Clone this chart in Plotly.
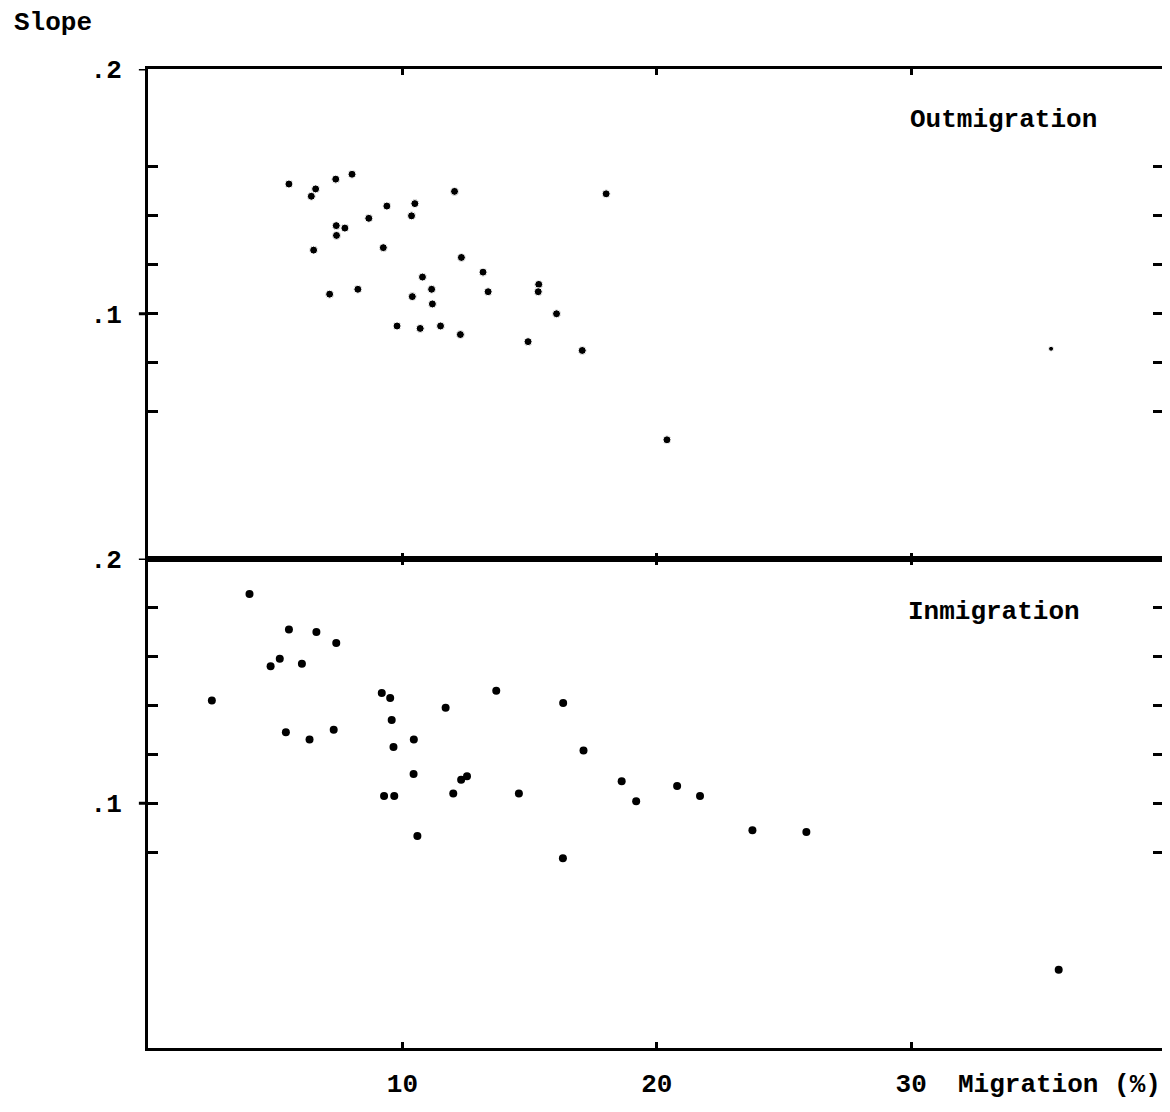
import plotly.graph_objects as go

# ---- data ----
out_x = [5.54, 6.59, 6.42, 7.38, 8.02, 12.05, 18.01, 9.39, 10.49, 8.68,
         10.36, 7.40, 7.74, 7.41, 6.51, 9.25, 12.32, 13.17, 10.79, 15.36,
         15.34, 11.15, 13.37, 7.14, 8.25, 10.39, 11.18, 16.06, 9.79, 10.70,
         11.50, 12.28, 14.94, 17.07, 20.40, 35.50]
out_y = [0.153, 0.151, 0.148, 0.155, 0.157, 0.150, 0.149, 0.144, 0.145, 0.139,
         0.140, 0.136, 0.135, 0.132, 0.126, 0.127, 0.123, 0.117, 0.115, 0.112,
         0.109, 0.110, 0.109, 0.108, 0.110, 0.107, 0.104, 0.100, 0.095, 0.094,
         0.095, 0.0915, 0.0886, 0.085, 0.0485, 0.0857]

in_x = [3.99, 5.54, 6.62, 7.40, 5.18, 4.82, 6.05, 2.51, 9.19, 9.52,
        13.69, 16.32, 11.70, 9.58, 5.42, 6.35, 7.30, 10.45, 9.65, 17.12,
        10.44, 12.31, 12.54, 18.62, 20.80, 12.00, 9.28, 9.68, 14.58, 19.19,
        21.70, 10.59, 16.31, 23.76, 25.88, 35.80]
in_y = [0.1855, 0.171, 0.170, 0.1655, 0.159, 0.156, 0.157, 0.142, 0.145, 0.143,
        0.146, 0.141, 0.139, 0.134, 0.129, 0.126, 0.130, 0.126, 0.123, 0.1216,
        0.112, 0.1096, 0.111, 0.109, 0.107, 0.104, 0.103, 0.103, 0.104, 0.1008,
        0.103, 0.0866, 0.0775, 0.089, 0.0883, 0.032]

x_ticks = [10, 20, 30]
x_ticklabels = ["10", "20", "30"]
top_yticks = [0.06, 0.08, 0.10, 0.12, 0.14, 0.16, 0.20]
bot_yticks = [0.08, 0.10, 0.12, 0.14, 0.16, 0.18, 0.20]
labeled = {0.10: ".1", 0.20: ".2"}

panel_titles = ["Outmigration", "Inmigration"]
y_title = "Slope"
x_title = "Migration (%)"

FONT = "Liberation Mono"
fs = 26

def ylabels(vals):
    return [labeled.get(round(v, 2), "") for v in vals]

fig = go.Figure()
out_sizes = [8] * (len(out_x) - 1) + [5]
fig.add_trace(go.Scatter(x=out_x, y=out_y, mode="markers", xaxis="x2", yaxis="y2",
                         marker=dict(color="black", size=out_sizes, opacity=1),
                         showlegend=False))
fig.add_trace(go.Scatter(x=in_x, y=in_y, mode="markers", xaxis="x", yaxis="y",
                         marker=dict(color="black", size=8, opacity=1),
                         showlegend=False))

axis_common = dict(showgrid=False, zeroline=False, showline=True, linecolor="black",
                   linewidth=3, mirror="ticks", ticks="inside", tickcolor="black",
                   tickwidth=3)
tfont = dict(family=FONT, size=fs, color="black", weight="bold")

fig.update_layout(
    width=1162, height=1104,
    margin=dict(l=140, r=4, t=61, b=64),
    paper_bgcolor="white", plot_bgcolor="white",
    font=dict(family=FONT, size=fs, color="black"),
    xaxis=dict(domain=[0, 1], range=[0, 39.9], anchor="y", tickvals=x_ticks,
               ticktext=x_ticklabels, ticklen=6, ticklabelstandoff=10,
               tickfont=tfont, **axis_common),
    xaxis2=dict(domain=[0, 1], range=[0, 39.9], anchor="y2", matches="x",
                tickvals=x_ticks, showticklabels=False, ticklen=6, **axis_common),
    yaxis=dict(domain=[0, 0.5], range=[0, 0.2], anchor="x", tickvals=bot_yticks,
               ticktext=ylabels(bot_yticks), ticklen=10, ticklabelstandoff=18,
               tickfont=tfont, **axis_common),
    yaxis2=dict(domain=[0.5, 1], range=[0, 0.2], anchor="x2", tickvals=top_yticks,
                ticktext=ylabels(top_yticks), ticklen=10, ticklabelstandoff=18,
                tickfont=tfont, **axis_common),
)

# short outward stubs on the labeled ticks (they cross the axis line)
for yref, vals in (("y", bot_yticks), ("y2", top_yticks)):
    for v in vals:
        if round(v, 2) in labeled:
            fig.add_shape(type="line", xref="paper", yref=yref, x0=-0.009, x1=0,
                          y0=v, y1=v, line=dict(color="black", width=3))

fig.add_annotation(text=panel_titles[0], xref="paper", yref="y2 domain", x=0.749, y=0.895,
                   xanchor="left", yanchor="middle", showarrow=False, font=tfont)
fig.add_annotation(text=panel_titles[1], xref="paper", yref="y domain", x=0.747, y=0.89,
                   xanchor="left", yanchor="middle", showarrow=False, font=tfont)
fig.add_annotation(text=y_title, xref="paper", yref="paper", x=-0.134, y=1.047,
                   xanchor="left", yanchor="middle", showarrow=False, font=tfont)
fig.add_annotation(text=x_title, xref="paper", yref="paper", x=1.0, y=-0.038,
                   xanchor="right", yanchor="middle", showarrow=False, font=tfont)

fig.write_html("out.html")
